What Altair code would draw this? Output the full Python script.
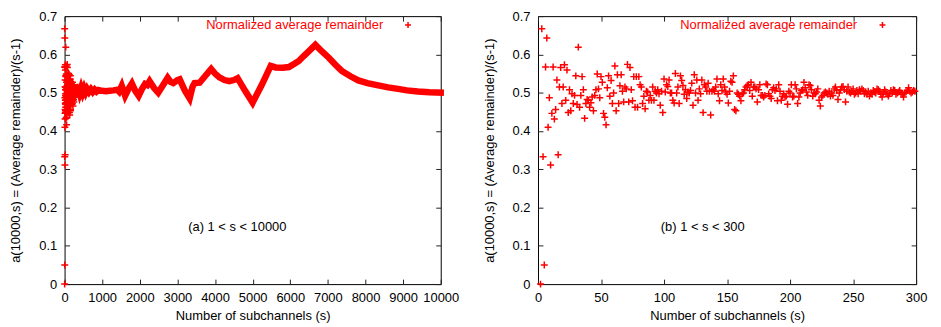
import altair as alt
import pandas as pd

# ---- data ----
# normalized average remainder for s = 2 .. 299 (right panel, also the spike of the left panel)
small_s_ratio = [
    0.000, 0.667, 0.333, 0.050, 0.567, 0.643, 0.410, 0.487, 0.311, 0.446,
    0.567, 0.431, 0.456, 0.533, 0.338, 0.515, 0.566, 0.472, 0.515, 0.573,
    0.480, 0.559, 0.448, 0.508, 0.453, 0.497, 0.472, 0.493, 0.544, 0.469,
    0.619, 0.462, 0.493, 0.542, 0.508, 0.433, 0.472, 0.482, 0.480, 0.462,
    0.474, 0.489, 0.453, 0.493, 0.508, 0.549, 0.510, 0.487, 0.542, 0.527,
    0.446, 0.436, 0.416, 0.513, 0.544, 0.491, 0.532, 0.472, 0.499, 0.570,
    0.453, 0.547, 0.472, 0.518, 0.547, 0.504, 0.476, 0.515, 0.510, 0.574,
    0.476, 0.566, 0.508, 0.479, 0.542, 0.462, 0.542, 0.462, 0.542, 0.521,
    0.515, 0.472, 0.491, 0.458, 0.504, 0.502, 0.480, 0.493, 0.480, 0.515,
    0.480,
    0.504, 0.499, 0.508, 0.497, 0.467, 0.504, 0.448, 0.536, 0.502, 0.521,
    0.516, 0.533, 0.499, 0.499, 0.480, 0.473, 0.550, 0.499, 0.515, 0.472,
    0.544, 0.532, 0.519, 0.496, 0.508, 0.485, 0.502, 0.499, 0.506, 0.525,
    0.467, 0.547, 0.499, 0.533, 0.480, 0.510, 0.497, 0.533, 0.448, 0.521,
    0.515, 0.504, 0.525, 0.504, 0.442, 0.504, 0.508, 0.504, 0.515, 0.536,
    0.497, 0.479, 0.521, 0.506, 0.536, 0.515, 0.502, 0.496, 0.473, 0.504,
    0.530, 0.527, 0.544, 0.456, 0.453, 0.499, 0.496, 0.491, 0.479, 0.497,
    0.499, 0.508, 0.515, 0.519, 0.521, 0.506, 0.527, 0.491, 0.515, 0.515,
    0.510, 0.476,
    0.508, 0.521, 0.493, 0.493, 0.489, 0.493, 0.523, 0.521, 0.497, 0.491,
    0.485, 0.508, 0.513, 0.506, 0.510, 0.479, 0.521, 0.504, 0.480, 0.491,
    0.497, 0.489, 0.491, 0.470, 0.504, 0.499, 0.521, 0.489, 0.491, 0.521,
    0.510, 0.472, 0.489, 0.499, 0.506, 0.508, 0.527, 0.513, 0.502, 0.493,
    0.521, 0.519, 0.508, 0.491, 0.499, 0.497, 0.502, 0.510, 0.480, 0.465,
    0.489, 0.493, 0.499, 0.502, 0.499, 0.496, 0.504, 0.491, 0.499, 0.493,
    0.510, 0.515, 0.506, 0.482, 0.499, 0.508, 0.515, 0.516, 0.508, 0.476,
    0.504, 0.515, 0.502, 0.499, 0.504, 0.510,
    0.496, 0.499, 0.506, 0.497, 0.508, 0.504, 0.510, 0.506, 0.497, 0.502,
    0.496, 0.504, 0.491, 0.499, 0.496, 0.506, 0.502, 0.499, 0.510, 0.508,
    0.504, 0.496, 0.489, 0.499, 0.508, 0.502, 0.496, 0.491, 0.497, 0.506,
    0.499, 0.508, 0.506, 0.496, 0.499, 0.502, 0.506, 0.499, 0.496, 0.489,
    0.499, 0.502, 0.506, 0.513, 0.504, 0.499, 0.502, 0.506, 0.504,
]

# dense part of the left panel (s >= 300), read along the thick band
curve_s = [
    300, 330, 360, 400, 440, 480, 520, 560, 600, 650,
    700, 750, 800, 850, 900, 1000, 1100, 1200, 1300, 1400,
    1450, 1520, 1610, 1700, 1790, 1880, 1970, 2060, 2140, 2200,
    2260, 2380, 2490, 2620, 2740, 2820, 2890, 3000, 3060, 3200,
    3325, 3400, 3456, 3590, 3750, 3897, 4000, 4116, 4250, 4380,
    4500, 4600, 4800, 5000, 5250, 5480, 5611, 5800, 5963, 6100,
    6227, 6350, 6490, 6667, 6850, 7018, 7200, 7370, 7600, 7810,
    8050, 8338, 8600, 8865, 9100, 9393, 9700, 10000,
]
curve_ratio = [
    0.514, 0.498, 0.513, 0.499, 0.512, 0.500, 0.511, 0.501, 0.510, 0.502,
    0.509, 0.502, 0.508, 0.503, 0.507, 0.505, 0.504, 0.505, 0.506, 0.508,
    0.503, 0.518, 0.492, 0.510, 0.524, 0.505, 0.492, 0.510, 0.523, 0.520,
    0.530, 0.512, 0.500, 0.520, 0.539, 0.528, 0.525, 0.533, 0.535, 0.505,
    0.485, 0.515, 0.525, 0.526, 0.545, 0.562, 0.550, 0.540, 0.533, 0.530,
    0.533, 0.538, 0.505, 0.474, 0.522, 0.570, 0.566, 0.565, 0.567, 0.575,
    0.583, 0.595, 0.608, 0.625, 0.607, 0.592, 0.573, 0.557, 0.543, 0.532,
    0.525, 0.519, 0.514, 0.510, 0.506, 0.503, 0.501, 0.500,
]

x_ticks_a = [0, 1000, 2000, 3000, 4000, 5000, 6000, 7000, 8000, 9000, 10000]
x_ticks_b = [0, 50, 100, 150, 200, 250, 300]
y_ticks = [0, 0.1, 0.2, 0.3, 0.4, 0.5, 0.6, 0.7]

SERIES = "Normalized average remainder"
X_TITLE = "Number of subchannels (s)"
Y_TITLE = "a(10000,s) = (Average remainder)/(s-1)"
RED = "#ff0000"
PLUS = "M-1,0L1,0M0,-1L0,1"
FONT = "Liberation Sans"

small_s = list(range(2, 2 + len(small_s_ratio)))
pts = pd.DataFrame({"s": small_s, "r": small_s_ratio, "series": SERIES})
curve = pd.DataFrame({"s": curve_s, "r": curve_ratio})

H = 270
TICK = 5
KEY_Y = 0.677


def panel(xmax, xticks, width, caption, cap_x, key_text_x, key_sym_x, with_curve):
    xs = alt.Scale(domain=[0, xmax], nice=False, zero=False)
    ys = alt.Scale(domain=[0, 0.7], nice=False, zero=False)

    x_main = alt.Axis(values=xticks, format="d", title=X_TITLE, orient="bottom",
                      offset=-TICK, tickSize=TICK, domain=False, grid=False,
                      labelFlush=False, labelOverlap=False, labelPadding=8,
                      titlePadding=5)
    y_main = alt.Axis(values=y_ticks, format=".1~f", title=Y_TITLE, orient="left",
                      offset=-TICK, tickSize=TICK, domain=False, grid=False,
                      labelFlush=False, labelOverlap=False, labelPadding=8,
                      titlePadding=16)
    x_mirror = alt.Axis(values=xticks, orient="top", offset=-TICK, tickSize=TICK,
                        domain=False, grid=False, labels=False, title=None)
    y_mirror = alt.Axis(values=y_ticks, orient="right", offset=-TICK, tickSize=TICK,
                        domain=False, grid=False, labels=False, title=None)

    layers = []
    if with_curve:
        layers.append(
            alt.Chart(curve).mark_line(color=RED, strokeWidth=6.5, strokeCap="square")
            .encode(x=alt.X("s:Q", scale=xs, axis=None),
                    y=alt.Y("r:Q", scale=ys, axis=None))
        )
    layers.append(
        alt.Chart(pts).mark_point(shape=PLUS, filled=False, size=49, strokeWidth=1.5, opacity=1)
        .encode(
            x=alt.X("s:Q", scale=xs, axis=x_main),
            y=alt.Y("r:Q", scale=ys, axis=y_main),
            color=alt.Color("series:N",
                            scale=alt.Scale(domain=[SERIES], range=[RED]),
                            legend=None),
        )
    )
    # key (gnuplot style: text, then sample symbol on its right)
    key_df = pd.DataFrame({"series": [SERIES]})
    layers.append(
        alt.Chart(key_df)
        .mark_text(fontSize=13, font=FONT, align="right", baseline="middle")
        .encode(x=alt.XDatum(key_text_x, type="quantitative", scale=xs, axis=None),
                y=alt.YDatum(KEY_Y, type="quantitative", scale=ys, axis=None),
                text="series:N",
                color=alt.Color("series:N", scale=alt.Scale(domain=[SERIES], range=[RED]),
                                legend=None))
    )
    layers.append(
        alt.Chart(key_df)
        .mark_point(shape=PLUS, filled=False, size=36, strokeWidth=1.5, opacity=1)
        .encode(x=alt.XDatum(key_sym_x, type="quantitative", scale=xs, axis=None),
                y=alt.YDatum(KEY_Y, type="quantitative", scale=ys, axis=None),
                color=alt.Color("series:N", scale=alt.Scale(domain=[SERIES], range=[RED]),
                                legend=None))
    )
    layers.append(
        alt.Chart(pd.DataFrame({"label": [caption]}))
        .mark_text(fontSize=13, font=FONT, color="black", align="center", baseline="middle")
        .encode(x=alt.XDatum(cap_x, type="quantitative", scale=xs, axis=None),
                y=alt.YDatum(0.149, type="quantitative", scale=ys, axis=None),
                text="label:N")
    )
    layers.append(
        alt.Chart(pts).mark_point(opacity=0, size=1)
        .encode(x=alt.X("s:Q", scale=xs, axis=x_mirror),
                y=alt.Y("r:Q", scale=ys, axis=y_mirror))
    )
    return (alt.layer(*layers)
            .resolve_axis(x="independent", y="independent")
            .properties(width=width, height=H))


left = panel(10000, x_ticks_a, 379, "(a) 1 < s < 10000", 4592, 8471, 9131, True)
right = panel(300, x_ticks_b, 381, "(b) 1 < s < 300", 130.7, 253.2, 273.3, False)

chart = (
    alt.hconcat(left, right, spacing=98, bounds="flush")
    .resolve_scale(x="independent", y="independent", color="independent")
    .properties(padding={"left": 1, "top": 0, "right": 5, "bottom": 0})
    .configure_view(stroke="black", strokeWidth=1)
    .configure_axis(labelFont=FONT, titleFont=FONT, labelFontSize=13, titleFontSize=13,
                    labelColor="black", titleColor="black", titleFontWeight="normal",
                    tickColor="#222222", tickWidth=1)
)

chart.save("out.html", embed_options={"renderer": "svg", "actions": False})
